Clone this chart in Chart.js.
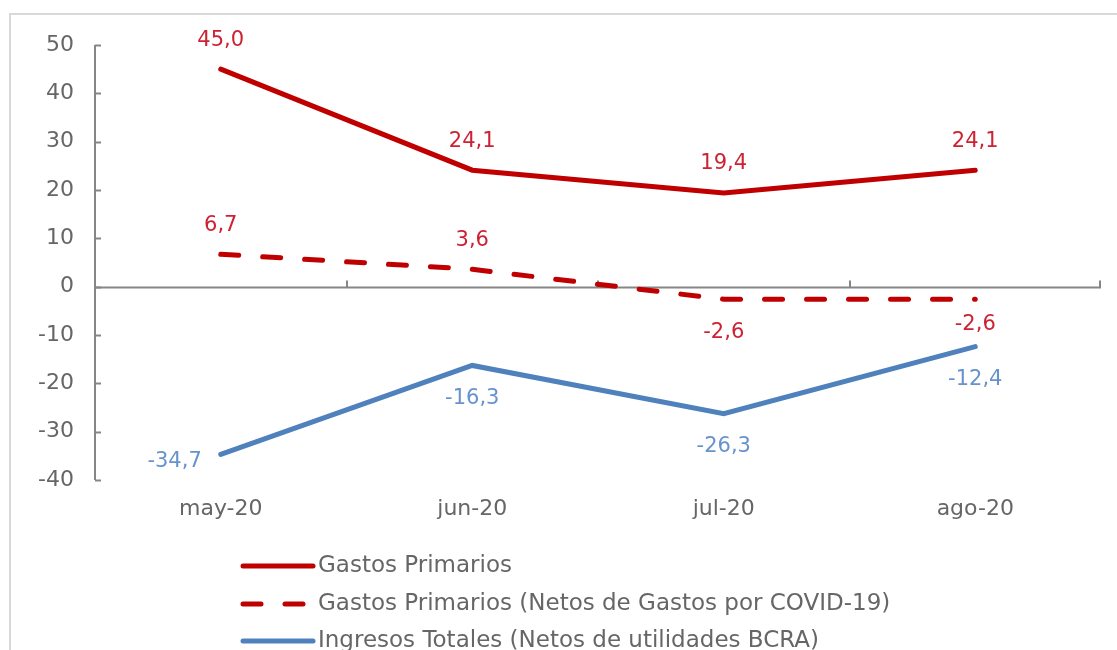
<!DOCTYPE html>
<html>
<head>
<meta charset="utf-8">
<script src="https://cdn.jsdelivr.net/npm/chart.js@4"></script>
<style>
  html, body { margin: 0; padding: 0; background: #fff; overflow: hidden; }
  #wrap { width: 1117px; height: 650px; position: relative; }
</style>
</head>
<body>
<div id="wrap"><canvas id="grafico" width="1117" height="650"></canvas></div>
<script>
// datos
const meses = ['may-20', 'jun-20', 'jul-20', 'ago-20'];
const gastosPrimarios = [45.0, 24.1, 19.4, 24.1];
const gastosNetosCovid = [6.7, 3.6, -2.6, -2.6];
const ingresosTotales = [-34.7, -16.3, -26.3, -12.4];
const nombres = [
    'Gastos Primarios',
    'Gastos Primarios (Netos de Gastos por COVID-19)',
    'Ingresos Totales (Netos de utilidades BCRA)'
];
const yMin = -40, yMax = 50, yPaso = 10;

// donde va cada etiqueta (arriba / abajo / izquierda)
const posEtiquetas = [
    ['arriba', 'arriba', 'arriba', 'arriba'],
    ['arriba', 'arriba', 'abajo', 'abajo2'],
    ['izq', 'abajo', 'abajo', 'abajo']
];

const ROJO = '#C00000';
const AZUL = '#4F81BD';
const GRIS = '#868686';
const TEXTO = '#666666';
const FUENTE = '"DejaVu Sans", sans-serif';

function formato(v) {
    return v.toFixed(1).replace('.', ',');
}

// ejes, marco, etiquetas y leyenda
const extras = {
    id: 'extras',
    beforeDraw(chart) {
        const ctx = chart.ctx;
        ctx.save();
        ctx.strokeStyle = '#d9d9d9';
        ctx.lineWidth = 2;
        ctx.beginPath();
        ctx.moveTo(10, 650);
        ctx.lineTo(10, 14);
        ctx.lineTo(1117, 14);
        ctx.stroke();
        ctx.restore();
    },
    beforeDatasetsDraw(chart) {
        const ctx = chart.ctx;
        const x = chart.scales.x, y = chart.scales.y;
        const area = chart.chartArea;
        ctx.save();
        ctx.strokeStyle = GRIS;
        ctx.lineWidth = 2;
        // eje vertical
        ctx.beginPath();
        ctx.moveTo(area.left, y.getPixelForValue(yMax));
        ctx.lineTo(area.left, y.getPixelForValue(yMin));
        ctx.stroke();
        for (let v = yMin; v <= yMax; v += yPaso) {
            const py = Math.round(y.getPixelForValue(v)) + 0.5;
            ctx.beginPath();
            ctx.moveTo(area.left, py);
            ctx.lineTo(area.left + 6, py);
            ctx.stroke();
        }
        // eje horizontal en cero
        const y0 = Math.round(y.getPixelForValue(0)) + 0.5;
        ctx.beginPath();
        ctx.moveTo(area.left, y0);
        ctx.lineTo(area.right, y0);
        ctx.stroke();
        const paso = x.getPixelForValue(1) - x.getPixelForValue(0);
        for (let i = 0; i < meses.length; i++) {
            const px = Math.min(Math.round(x.getPixelForValue(i) + paso / 2), area.right - 1);
            ctx.beginPath();
            ctx.moveTo(px, y0);
            ctx.lineTo(px, y0 - 7);
            ctx.stroke();
        }
        ctx.restore();
    },
    afterDatasetsDraw(chart) {
        const ctx = chart.ctx;
        ctx.save();
        ctx.font = '21px ' + FUENTE;
        ctx.textBaseline = 'middle';
        chart.data.datasets.forEach((ds, i) => {
            const meta = chart.getDatasetMeta(i);
            ctx.fillStyle = ds.colorEtiqueta;
            meta.data.forEach((pt, j) => {
                const txt = formato(ds.data[j]);
                const pos = posEtiquetas[i][j];
                ctx.textAlign = 'center';
                if (pos === 'arriba') {
                    ctx.fillText(txt, pt.x, pt.y - 29);
                } else if (pos === 'abajo') {
                    ctx.fillText(txt, pt.x, pt.y + 33);
                } else if (pos === 'abajo2') {
                    ctx.fillText(txt, pt.x, pt.y + 25);
                } else {
                    ctx.textAlign = 'right';
                    ctx.fillText(txt, pt.x - 19, pt.y + 7);
                }
            });
        });
        ctx.restore();
    },
    afterDraw(chart) {
        // leyenda
        const ctx = chart.ctx;
        ctx.save();
        ctx.font = '23px ' + FUENTE;
        ctx.textBaseline = 'middle';
        ctx.textAlign = 'left';
        const filas = [566, 604, 641];
        chart.data.datasets.forEach((ds, i) => {
            const yy = filas[i];
            ctx.strokeStyle = ds.borderColor;
            ctx.lineWidth = 5;
            ctx.lineCap = 'round';
            ctx.setLineDash(ds.borderDash && ds.borderDash.length ? [18, 24] : []);
            ctx.beginPath();
            ctx.moveTo(243, yy);
            ctx.lineTo(313, yy);
            ctx.stroke();
            ctx.setLineDash([]);
            ctx.fillStyle = TEXTO;
            ctx.fillText(ds.label, 318, yy);
        });
        ctx.restore();
    }
};

const ctx = document.getElementById('grafico');
new Chart(ctx, {
    type: 'line',
    data: {
        labels: meses,
        datasets: [
            {
                label: nombres[0],
                data: gastosPrimarios,
                borderColor: ROJO,
                colorEtiqueta: '#CC2233',
                borderWidth: 5,
                borderCapStyle: 'round',
                pointRadius: 0,
                tension: 0
            },
            {
                label: nombres[1],
                data: gastosNetosCovid,
                borderColor: ROJO,
                colorEtiqueta: '#CC2233',
                borderWidth: 5,
                borderDash: [18, 24],
                borderCapStyle: 'round',
                pointRadius: 0,
                tension: 0
            },
            {
                label: nombres[2],
                data: ingresosTotales,
                borderColor: AZUL,
                colorEtiqueta: '#6693CC',
                borderWidth: 5,
                borderCapStyle: 'round',
                pointRadius: 0,
                tension: 0
            }
        ]
    },
    options: {
        responsive: false,
        animation: false,
        layout: { padding: { left: 10, right: 16, top: 45, bottom: 120 } },
        plugins: {
            legend: { display: false },
            tooltip: { enabled: false }
        },
        scales: {
            x: {
                offset: true,
                grid: { display: false },
                border: { display: false },
                ticks: { color: TEXTO, font: { family: FUENTE, size: 22 }, padding: 8 },
                afterFit(scale) { scale.height = 50; }
            },
            y: {
                min: yMin,
                max: yMax,
                grid: { display: false },
                border: { display: false },
                ticks: {
                    stepSize: yPaso,
                    color: TEXTO,
                    font: { family: FUENTE, size: 22 },
                    padding: 13
                },
                afterFit(scale) { scale.width = 85; }
            }
        }
    },
    plugins: [extras]
});
</script>
</body>
</html>
